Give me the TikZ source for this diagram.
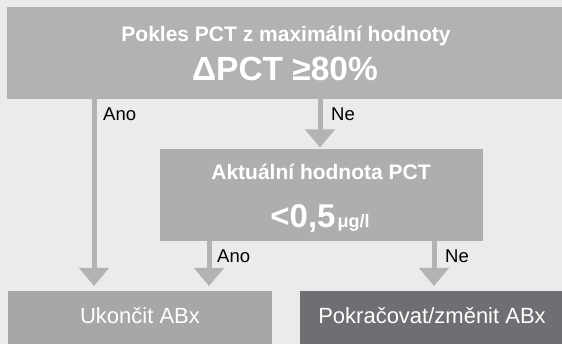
\documentclass[tikz,border=0pt]{standalone}
\usepackage{fontspec}
\setmainfont{Liberation Sans}
\usetikzlibrary{arrows.meta}
\definecolor{bg}{HTML}{EBEBEB}
\definecolor{boxA}{HTML}{B1B2B4}
\definecolor{boxB}{HTML}{ADAEB0}
\definecolor{boxC}{HTML}{A6A7A9}
\definecolor{boxD}{HTML}{6E6F72}
\definecolor{arr}{HTML}{B3B3B3}
\begin{document}
\begin{tikzpicture}[x=1pt,y=-1pt,
  box/.style={draw=none, inner sep=0pt, outer sep=0pt, anchor=north west},
  wtext/.style={text=white, inner sep=0pt, anchor=base},
  lbl/.style={text=black, inner sep=0pt, anchor=base west, font=\fontsize{18.5}{20}\selectfont},
  flow/.style={draw=arr, line width=5pt, -{Triangle[width=29pt,length=18pt]}},
]
\fill[bg] (0,0) rectangle (562,344);
\useasboundingbox (0,0) rectangle (562,344);
\node[box, fill=boxA, minimum width=555pt, minimum height=92pt] (top) at (7,7) {};
\node[box, fill=boxB, minimum width=323pt, minimum height=92pt] (mid) at (160,149) {};
\node[box, fill=boxC, minimum width=264pt, minimum height=53pt] (stop) at (8,291) {};
\node[box, fill=boxD, minimum width=262pt, minimum height=53pt] (cont) at (300,291) {};

\node[wtext, font=\bfseries\fontsize{21}{24}\selectfont] (t1) at (286,41.7) {Pokles PCT z maximální hodnoty};
\node[wtext, font=\bfseries\fontsize{33.5}{40}\selectfont] (t2) at (285,80.7) {ΔPCT ≥80\%};
\node[wtext, font=\bfseries\fontsize{21}{24}\selectfont] (m1) at (321,180) {Aktuální hodnota PCT};
\node[wtext, font=\bfseries\fontsize{33}{40}\selectfont] (m2) at (320,228) {<0,5\kern2pt{\fontsize{18}{20}\selectfont μg/l}};
\node[wtext, font=\fontsize{22}{26}\selectfont] (s1) at (140,324) {Ukončit ABx};
\node[wtext, font=\fontsize{22}{26}\selectfont] (c1) at (432,324) {Pokračovat/změnit ABx};

\coordinate (xa) at (94,0);
\coordinate (xb) at (320,0);
\coordinate (xc) at (209,0);
\coordinate (xd) at (434,0);
\draw[flow, shorten >=5pt] (top.south -| xa) -- (stop.north -| xa);
\draw[flow, shorten >=1.5pt] (top.south -| xb) -- (mid.north -| xb);
\draw[flow, shorten >=5pt] (mid.south -| xc) -- (stop.north -| xc);
\draw[flow, shorten >=5pt] (mid.south -| xd) -- (cont.north -| xd);

\node[lbl] (l1) at (103,121) {Ano};
\node[lbl] (l2) at (331,121) {Ne};
\node[lbl] (l3) at (217,263) {Ano};
\node[lbl] (l4) at (445,263) {Ne};
\end{tikzpicture}
\end{document}
